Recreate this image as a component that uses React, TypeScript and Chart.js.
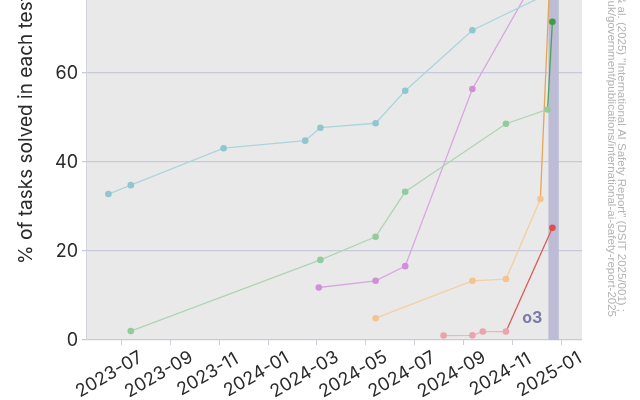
import React, { useEffect, useRef } from "react";
import { Chart, registerables } from "chart.js";

Chart.register(...registerables);

// ---------- data ----------
const xTickLabels = ["2023-07", "2023-09", "2023-11", "2024-01", "2024-03", "2024-05", "2024-07", "2024-09", "2024-11", "2025-01"];
const yTickValues = [0, 20, 40, 60];
const yTickLabels = ["0", "20", "40", "60"];

const blueDates = ["2023-06-15", "2023-07-13", "2023-11-06", "2024-02-16", "2024-03-06", "2024-05-14", "2024-06-20", "2024-09-12", "2024-12-21"];
const blueValues = [32.8, 34.8, 43.1, 44.8, 47.7, 48.7, 56.0, 69.6, 78.3];

const greenDates = ["2023-07-13", "2024-03-06", "2024-05-14", "2024-06-20", "2024-10-24", "2024-12-15", "2024-12-21"];
const greenValues = [2.0, 18.0, 23.2, 33.3, 48.6, 51.8, 71.5];

const purpleDates = ["2024-03-04", "2024-05-14", "2024-06-20", "2024-09-12", "2024-12-21"];
const purpleValues = [11.8, 13.3, 16.6, 56.4, 88.0];

const orangeDates = ["2024-05-14", "2024-09-12", "2024-10-24", "2024-12-06", "2024-12-21"];
const orangeValues = [4.9, 13.3, 13.7, 31.7, 95.0];

const redDates = ["2024-08-07", "2024-09-12", "2024-09-25", "2024-10-24", "2024-12-21"];
const redValues = [1.0, 1.05, 1.9, 1.9, 25.2];

const xMinDate = "2023-05-18";
const xMaxDate = "2025-01-27";
const yMax = 76.4;
const bandStartDate = "2024-12-16";
const bandEndDate = "2024-12-29";
const bandLabel = "o3";
const yTitle = "% of tasks solved in each test";
const sourceLine1 = "& al. (2025) \"International AI Safety Report\" (DSIT 2025/001) ;";
const sourceLine2 = "gov.uk/government/publications/international-ai-safety-report-2025";

// ---------- helpers ----------
const d = (s: string) => Date.parse(s + "T00:00:00Z");
const pts = (dates: string[], vals: number[]) => dates.map((s, i) => ({ x: d(s), y: vals[i] }));

const FONT = "Inter, 'DejaVu Sans', sans-serif";
const SRC_FONT = "'Liberation Sans', Arial, sans-serif";

function makeDataset(dates: string[], vals: number[], line: string, point: string, lastLine: string, lastPoint: string) {
  const n = vals.length;
  return {
    data: pts(dates, vals),
    borderColor: line,
    borderWidth: 1.3,
    pointRadius: 3.3,
    pointBorderWidth: 0,
    pointBackgroundColor: vals.map((_, i) => (i === n - 1 ? lastPoint : point)),
    segment: {
      borderColor: (c: any) => (c.p1DataIndex === n - 1 ? lastLine : line),
    },
    tension: 0,
    fill: false,
  };
}

const decorPlugin = {
  id: "decor",
  beforeDraw(chart: any) {
    const { ctx, chartArea: a } = chart;
    ctx.save();
    ctx.fillStyle = "#ffffff";
    ctx.fillRect(0, 0, chart.width, chart.height);
    ctx.fillStyle = "#e9e9e9";
    ctx.fillRect(a.left, a.top, a.right - a.left, a.bottom - a.top);
    ctx.restore();
  },
  beforeDatasetsDraw(chart: any) {
    const { ctx, chartArea: a, scales } = chart;
    const x0 = scales.x.getPixelForValue(d(bandStartDate));
    const x1 = scales.x.getPixelForValue(d(bandEndDate));
    ctx.save();
    ctx.fillStyle = "#bcbcd6";
    ctx.fillRect(x0, a.top, x1 - x0, a.bottom - a.top);
    ctx.fillStyle = "#7b7aa8";
    ctx.font = `bold 16px ${FONT}`;
    ctx.textAlign = "right";
    ctx.textBaseline = "middle";
    ctx.fillText(bandLabel, x0 - 6, a.bottom - 22);
    ctx.restore();
  },
  afterDraw(chart: any) {
    const { ctx, chartArea: a, scales } = chart;
    ctx.save();
    // y tick labels
    ctx.fillStyle = "#2a2a2a";
    ctx.font = `18px ${FONT}`;
    ctx.textAlign = "right";
    ctx.textBaseline = "middle";
    yTickValues.forEach((v, i) => {
      ctx.fillText(yTickLabels[i], a.left - 8, scales.y.getPixelForValue(v) + 1);
    });
    // x tick labels (rotated)
    ctx.font = `18px ${FONT}`;
    ctx.textAlign = "center";
    xTickLabels.forEach((lab) => {
      const px = scales.x.getPixelForValue(d(lab + "-01"));
      ctx.save();
      ctx.translate(px - 12, a.bottom + 34.5);
      ctx.rotate(-Math.PI / 6);
      ctx.fillText(lab, 0, 0);
      ctx.restore();
    });
    // y title
    ctx.save();
    ctx.font = `19px ${FONT}`;
    ctx.textAlign = "left";
    ctx.textBaseline = "middle";
    ctx.translate(26, 264);
    ctx.rotate(-Math.PI / 2);
    ctx.fillText(yTitle, 0, 0);
    ctx.restore();
    // source text (rotated clockwise)
    ctx.fillStyle = "#b4b4b4";
    ctx.font = `11.5px ${SRC_FONT}`;
    ctx.textAlign = "right";
    ctx.textBaseline = "middle";
    ctx.save();
    ctx.translate(621, 312);
    ctx.rotate(Math.PI / 2);
    ctx.fillText(sourceLine1, 0, 0);
    ctx.restore();
    ctx.save();
    ctx.translate(611, 317);
    ctx.rotate(Math.PI / 2);
    ctx.fillText(sourceLine2, 0, 0);
    ctx.restore();
    ctx.restore();
  },
};

export default function App() {
  const ref = useRef<HTMLCanvasElement | null>(null);
  useEffect(() => {
    if (!ref.current) return;
    const xTickValues = xTickLabels.map((l) => d(l + "-01"));
    const chart = new Chart(ref.current, {
      type: "line",
      data: {
        datasets: [
          makeDataset(blueDates, blueValues, "#acd5dc", "#90c6ce", "#acd5dc", "#90c6ce"),
          makeDataset(greenDates, greenValues, "#aed5b2", "#93cb9d", "#4ea354", "#3f9b48"),
          makeDataset(purpleDates, purpleValues, "#d6a8dc", "#d08fd8", "#d6a8dc", "#d08fd8"),
          makeDataset(orangeDates, orangeValues, "#f3d0a2", "#f4c38f", "#e6a55a", "#e6a55a"),
          makeDataset(redDates, redValues, "#efb3b8", "#eba3ad", "#dc5a5a", "#e04f4f"),
        ] as any,
      },
      options: {
        animation: false,
        responsive: false,
        layout: { autoPadding: false, padding: { left: 82, right: 58, top: 0, bottom: 55 } },
        plugins: { legend: { display: false }, tooltip: { enabled: false } },
        scales: {
          x: {
            type: "linear",
            min: d(xMinDate),
            max: d(xMaxDate),
            afterBuildTicks: (axis: any) => {
              axis.ticks = xTickValues.map((v) => ({ value: v }));
            },
            ticks: { display: false },
            grid: { drawOnChartArea: false, drawTicks: true, tickLength: 5, color: "#cfcfd4", lineWidth: 1 },
            border: { display: false },
          },
          y: {
            type: "linear",
            min: 0,
            max: yMax,
            afterBuildTicks: (axis: any) => {
              axis.ticks = yTickValues.map((v) => ({ value: v }));
            },
            ticks: { display: false },
            grid: { color: "#c9c9dc", lineWidth: 1.3, drawTicks: true, tickLength: 4 },
            border: { display: true, color: "#d3d3dc", width: 1 },
          },
        },
      } as any,
      plugins: [decorPlugin],
    });
    return () => chart.destroy();
  }, []);
  return (
    <div style={{ position: "fixed", left: 0, top: 0, width: 640, height: 400, background: "#fff" }}>
      <canvas ref={ref} width={640} height={400} style={{ display: "block" }} />
    </div>
  );
}
